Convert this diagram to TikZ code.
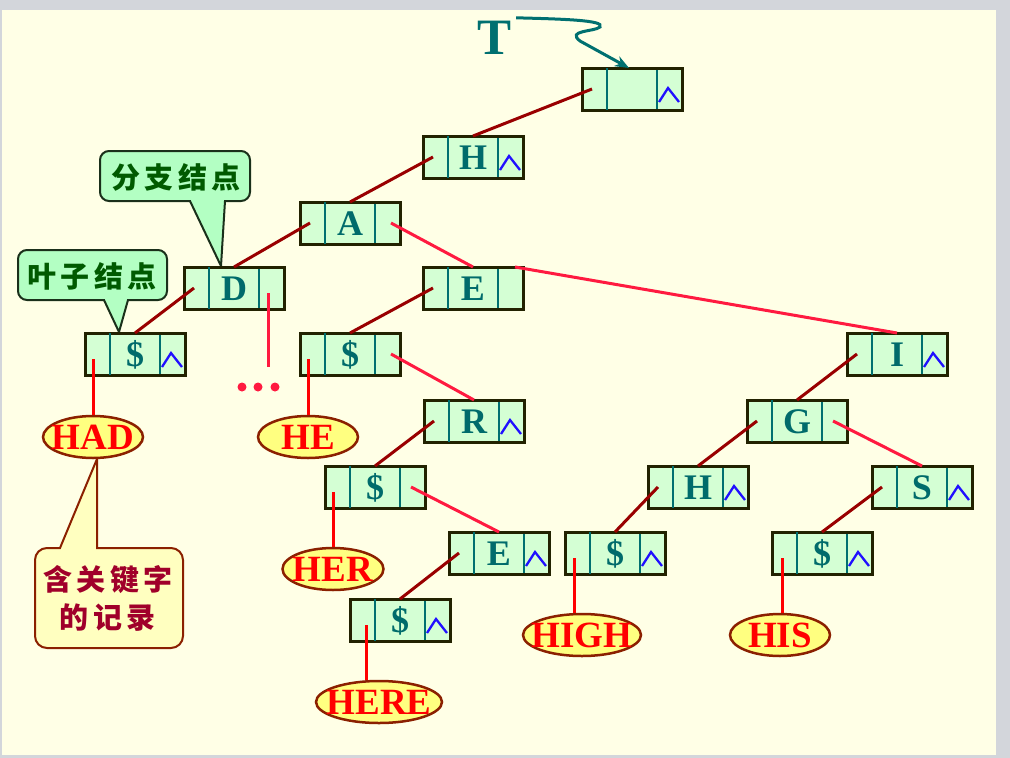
\documentclass[tikz,border=0pt]{standalone}
\usepackage{fontspec}
\setmainfont{Liberation Serif}
\newfontfamily\cjk{Noto Sans CJK SC}
\usetikzlibrary{shapes.geometric,arrows.meta}
\definecolor{bgyellow}{HTML}{FFFFE6}
\definecolor{framegray}{HTML}{D3D6DB}
\definecolor{boxfill}{HTML}{D4FFD4}
\definecolor{boxline}{HTML}{222200}
\definecolor{cellteal}{HTML}{007070}
\definecolor{letterteal}{HTML}{006B6B}
\definecolor{nilblue}{HTML}{2010FF}
\definecolor{kidred}{HTML}{990000}
\definecolor{sibred}{HTML}{FF1A40}
\definecolor{keyred}{HTML}{FF0000}
\definecolor{leaffill}{HTML}{FFFF80}
\definecolor{leafline}{HTML}{8B2000}
\definecolor{notegreen}{HTML}{B3FFC3}
\definecolor{noteline}{HTML}{1A301A}
\definecolor{notetext}{HTML}{005A00}
\definecolor{noteyellow}{HTML}{FFFFC0}
\definecolor{notered}{HTML}{A0002A}
\begin{document}
\begin{tikzpicture}[x=1pt, y=-1pt,
  rec/.style={draw=boxline, fill=boxfill, line width=3pt, minimum width=100pt, minimum height=42pt, inner sep=0pt, outer sep=0pt, text=letterteal, font=\bfseries\fontsize{36}{36}\selectfont, text height=24pt, text depth=0pt},
  cell/.style={draw=cellteal, line width=2pt, shorten <=1.5pt, shorten >=1.5pt},
  nil/.style={draw=nilblue, line width=2.3pt},
  child/.style={draw=kidred, line width=3pt},
  sib/.style={draw=sibred, line width=3pt},
  tokey/.style={draw=keyred, line width=3pt},
  leaf/.style={ellipse, draw=leafline, fill=leaffill, line width=2.5pt, minimum height=42pt, inner sep=0pt},
  leaftext/.style={text=keyred, font=\bfseries\fontsize{37}{37}\selectfont, inner sep=0pt},
  greentip/.style={draw=noteline, fill=notegreen, line width=2pt},
  yellowtip/.style={draw=leafline, fill=noteyellow, line width=2pt},
  greennote/.style={text=notetext, font=\cjk\bfseries\fontsize{29}{29}\selectfont, inner sep=0pt},
  rednote/.style={text=notered, font=\cjk\bfseries\fontsize{29}{38}\selectfont, inner sep=0pt, align=center},
  tlabel/.style={text=cellteal, font=\bfseries\fontsize{51}{51}\selectfont, inner sep=0pt, text height=34pt, text depth=0pt},
  tarrow/.style={draw=cellteal, line width=3pt, -{Stealth[length=14pt, width=11pt]}}]
% page
\fill[framegray] (0,0) rectangle (1010,758);
\fill[bgyellow] (2,10) rectangle (996,755);
% call-outs
\draw[greentip] (190,201) [rounded corners=9pt] -- (100,201) -- (100,151) -- (250,151) -- (250,201) [sharp corners] -- (225,201) -- (221,266) -- cycle;
\draw[greentip] (104,300) [rounded corners=9pt] -- (18,300) -- (18,250) -- (167,250) -- (167,300) [sharp corners] -- (128,300) -- (119,332) -- cycle;
\draw[yellowtip] (60,548) [rounded corners=12pt] -- (35,548) -- (35,648) -- (183,648) -- (183,548) [sharp corners] -- (97,548) -- (97,459) -- cycle;
\node[greennote] (branch) at (176,177) {分\kern4.5pt 支\kern4.5pt 结\kern4.5pt 点};
\node[greennote] (leafnote) at (92,276) {叶\kern4.5pt 子\kern4.5pt 结\kern4.5pt 点};
\node[rednote] (record) at (108,598) {含\kern4.5pt 关\kern4.5pt 键\kern4.5pt 字\\的\kern4.5pt 记\kern4.5pt 录};
% trie nodes
\node[rec] (root) at (632,89) {};
\node[rec] (H1) at (473,157) {H};
\node[rec] (A) at (350,223) {A};
\node[rec] (D) at (234,288) {D};
\node[rec] (S1) at (135,354) {\$};
\node[rec] (E1) at (473,288) {E};
\node[rec] (S2) at (350,354) {\$};
\node[rec] (R) at (474,421) {R};
\node[rec] (S3) at (375,487) {\$};
\node[rec] (E2) at (499,553) {E};
\node[rec] (S4) at (400,620) {\$};
\node[rec] (I) at (897,354) {I};
\node[rec] (G) at (797,421) {G};
\node[rec] (H2) at (698,487) {H};
\node[rec] (S5) at (615,553) {\$};
\node[rec] (S6) at (822,553) {\$};
\node[rec] (S) at (922,487) {S};
\foreach \n in {root,H1,A,D,S1,E1,S2,R,S3,E2,S4,I,G,H2,S5,S6,S}
  \draw[cell] ([xshift=25pt]\n.north west) -- ([xshift=25pt]\n.south west)
              ([xshift=-25pt]\n.north east) -- ([xshift=-25pt]\n.south east);
\foreach \n in {root,H1,S1,R,E2,S4,I,H2,S5,S6,S}
  \draw[nil] ([shift={(-23,34)}]\n.north east) -- ([shift={(-14,20)}]\n.north east) -- ([shift={(-3,34)}]\n.north east);
% records
\node[leaf, minimum width=100pt, label={[leaftext]center:HAD}] (HAD) at (93,437) {};
\node[leaf, minimum width=100pt, label={[leaftext]center:HE}] (HE) at (308,437) {};
\node[leaf, minimum width=101pt, label={[leaftext]center:HER}] (HER) at (333,569) {};
\node[leaf, minimum width=126pt, label={[leaftext]center:HERE}] (HERE) at (379,702) {};
\node[leaf, minimum width=118pt, label={[leaftext]center:HIGH}] (HIGH) at (582,635) {};
\node[leaf, minimum width=100pt, label={[leaftext]center:HIS}] (HIS) at (780,635) {};
% head pointer
\node[tlabel] (T) at (495,37) {T};
\draw[tarrow] ([shift={(4,-2)}]T.north east) .. controls (560,19) and (606,20) .. (600,27) .. controls (594,32) and (566,30) .. (580,41) -- ([xshift=-3pt]root.north);
% first child links
\path[child] ([xshift=10pt]root.west) edge (H1.north);
\path[child] ([xshift=10pt]H1.west) edge (A.north);
\path[child] ([xshift=10pt]A.west) edge (D.north);
\path[child] ([xshift=10pt]D.west) edge (S1.north);
\path[child] ([xshift=10pt]E1.west) edge (S2.north);
\path[child] ([xshift=10pt]R.west) edge (S3.north);
\path[child] ([xshift=10pt]E2.west) edge (S4.north);
\path[child] ([xshift=10pt]I.west) edge (G.north);
\path[child] ([xshift=10pt]G.west) edge (H2.north);
\path[child] ([xshift=10pt]H2.west) edge (S5.north);
\path[child] ([xshift=10pt]S.west) edge (S6.north);
% sibling links
\path[sib] ([xshift=-9pt]A.east) edge (E1.north);
\path[sib] ([xshift=-8pt]E1.north east) edge (I.north);
\path[sib] ([xshift=-9pt]S2.east) edge (R.north);
\path[sib] ([xshift=-14pt]S3.east) edge (E2.north);
\path[sib] ([xshift=-14pt]G.east) edge (S.north);
\coordinate (Dend) at (268,367);
\path[sib] ([shift={(-16,5)}]D.east) edge (Dend);
\foreach \x in {242,258,275}
  \fill[sibred] (\x,387) circle (4.5pt);
% key records
\path[tokey] ([shift={(8,5)}]S1.west) edge (HAD.north);
\path[tokey] ([shift={(8,5)}]S2.west) edge (HE.north);
\path[tokey] ([shift={(8,5)}]S3.west) edge (HER.north);
\path[tokey] ([shift={(16,5)}]S4.west) edge ([xshift=-13pt]HERE.north);
\path[tokey] ([shift={(9,5)}]S5.west) edge ([xshift=-8pt]HIGH.north);
\path[tokey] ([shift={(10,5)}]S6.west) edge ([xshift=2pt]HIS.north);
\end{tikzpicture}
\end{document}
